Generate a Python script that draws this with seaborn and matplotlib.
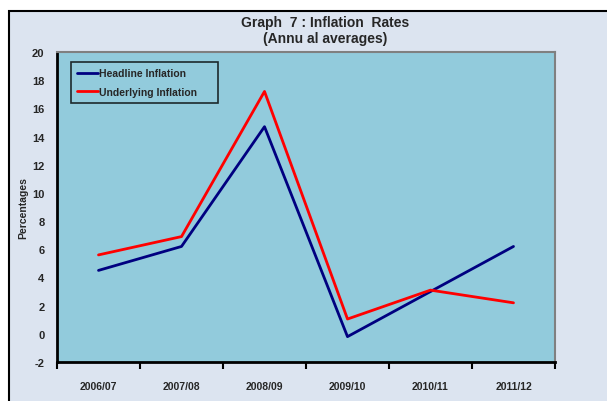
#!/usr/bin/env python3
import numpy as np
import pandas as pd
import seaborn as sns
import matplotlib.pyplot as plt
from matplotlib.patches import Rectangle

# ---------- Data ----------
years = ["2006/07", "2007/08", "2008/09", "2009/10", "2010/11", "2011/12"]
headline = [4.5, 6.2, 14.7, -0.2, 3.0, 6.2]
underlying = [5.6, 6.9, 17.2, 1.05, 3.1, 2.2]

BG_OUT = "#DCE4F0"
BG_IN = "#92CBDC"


def main() -> int:
    sns.set_style("white")
    plt.rcParams["font.family"] = ["Liberation Sans", "DejaVu Sans"]
    plt.rcParams["axes.unicode_minus"] = False

    df = pd.DataFrame({
        "pos": list(range(len(years))) * 2,
        "value": headline + underlying,
        "series": ["Headline Inflation"] * len(years) + ["Underlying Inflation"] * len(years),
    })

    fig = plt.figure(figsize=(6.07, 4.02), dpi=100, facecolor="white")
    # outer chart area with black frame
    fig.patches.append(Rectangle((9 / 607, -0.01), 1.0, 1.0 - 12 / 402 + 0.01,
                                 transform=fig.transFigure, facecolor=BG_OUT,
                                 edgecolor="black", linewidth=1.5, zorder=-1))

    ax = fig.add_axes([57 / 607, 39 / 402, (555 - 57) / 607, (363 - 53) / 402])
    ax.set_facecolor(BG_IN)

    sns.lineplot(data=df, x="pos", y="value", hue="series",
                 palette={"Headline Inflation": "#000080", "Underlying Inflation": "#FF0000"},
                 linewidth=2, ax=ax)

    ax.set_xlim(-0.5, len(years) - 0.5)
    ax.set_ylim(-2, 20)
    ax.set_yticks(np.arange(-2, 21, 2))
    ax.tick_params(axis="y", length=0, pad=9, labelsize=8)
    for lab in ax.get_yticklabels():
        lab.set_fontweight("bold")

    # category labels centred, tick marks on the boundaries
    ax.set_xticks(np.arange(-0.5, len(years)), minor=False)
    ax.set_xticklabels([])
    ax.set_xticks(np.arange(len(years)), minor=True)
    ax.set_xticklabels(years, minor=True, fontsize=7.5, fontweight="bold")
    ax.tick_params(axis="x", which="major", direction="out", length=5, width=1.5, color="black", bottom=True)
    ax.tick_params(axis="x", which="minor", length=0, pad=14)

    ax.set_xlabel("")
    ax.set_ylabel("Percentages", fontsize=7.5, fontweight="bold")
    ax.yaxis.set_label_coords(-0.058, 0.5)

    for side in ["left", "bottom"]:
        ax.spines[side].set_color("black")
        ax.spines[side].set_linewidth(2)
    for side in ["top", "right"]:
        ax.spines[side].set_color("#808080")
        ax.spines[side].set_linewidth(1.5)

    handles, labels = ax.get_legend_handles_labels()
    leg = ax.legend(handles, [l + "     " for l in labels],
                    loc="upper left", bbox_to_anchor=(0.028, 0.968), borderaxespad=0,
                    frameon=True, fancybox=False, edgecolor="black", facecolor=BG_IN,
                    prop={"size": 7.5, "weight": "bold"}, handlelength=2.0,
                    handletextpad=0.1, borderpad=0.6, labelspacing=0.8)
    leg.get_frame().set_linewidth(1.2)

    fig.text(0.535, 0.943, "Graph  7 : Inflation  Rates", ha="center", va="center",
             fontsize=10, fontweight="bold")
    fig.text(0.535, 0.902, "(Annu al averages)", ha="center", va="center",
             fontsize=10, fontweight="bold")

    fig.savefig("out.png", dpi=100, facecolor="white")
    plt.close(fig)
    return 0


if __name__ == "__main__":
    raise SystemExit(main())
